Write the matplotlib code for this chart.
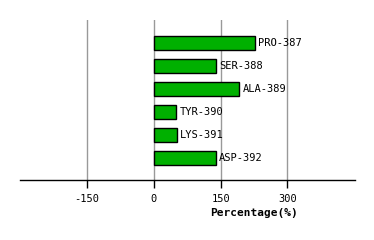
import matplotlib
matplotlib.use("Agg")
import matplotlib.pyplot as plt

residues = ["PRO-387", "SER-388", "ALA-389", "TYR-390", "LYS-391", "ASP-392"]
percentages = [227, 139, 192, 50, 52, 139]
xticks = [-150, 0, 150, 300]

fig = plt.figure(figsize=(3.74, 2.40), dpi=100)
ax = fig.add_axes([20/374, 0.25, 335/374, 160/240])

ypos = list(range(len(residues)))
ax.barh(ypos, percentages, height=0.63, color="#00b000", edgecolor="black", linewidth=1.0, zorder=3)
for y, v, name in zip(ypos, percentages, residues):
    ax.text(v + 7, y, name, va="center", ha="left", fontsize=7.5,
            family="DejaVu Sans Mono", zorder=4)

ax.set_xlim(-301, 452)
ax.set_ylim(5.95, -1.0)
ax.set_xticks(xticks)
ax.set_xticklabels([str(t) for t in xticks], family="DejaVu Sans Mono", fontsize=7.5)
ax.set_yticks([])
ax.grid(axis="x", color="#999999", linewidth=1.0, zorder=0)
for s in ["top", "left", "right"]:
    ax.spines[s].set_visible(False)
ax.spines["bottom"].set_linewidth(1.0)
ax.tick_params(axis="x", length=6, width=1.0, pad=4)
ax.set_xlabel("Percentage(%)", family="DejaVu Sans Mono", fontweight="bold", fontsize=8)
ax.xaxis.set_label_coords((254 - 20) / 335, -0.175)

fig.savefig("out.png", dpi=100)
